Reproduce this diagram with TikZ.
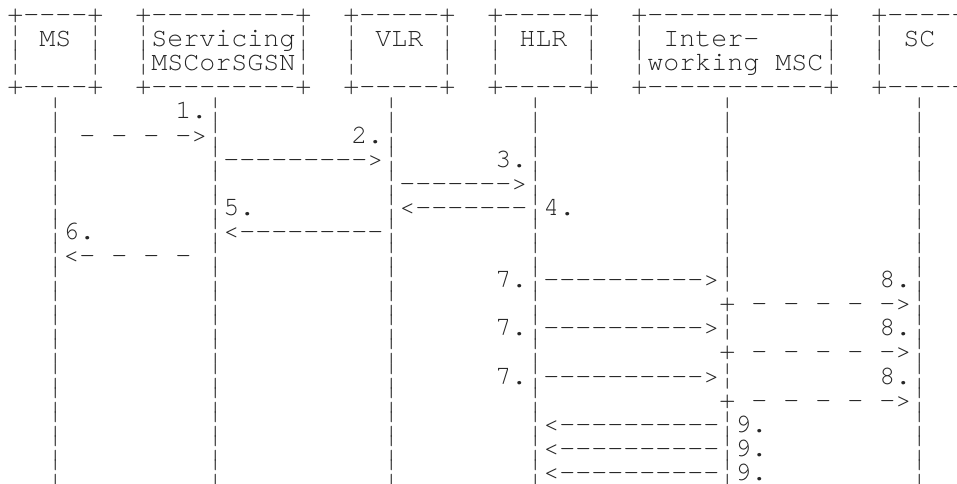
\documentclass[tikz,border=0pt]{standalone}
\usepackage{fontspec}
\usepackage{graphicx}
\setmonofont{texgyrecursor-regular.otf}
\usepackage{tikz}
\newcommand{\vbar}{\scalebox{1}[1.25]{¦}}
\tikzset{
  ascii/.style={font=\ttfamily\fontsize{20}{24}\selectfont, inner sep=0pt,
                anchor=base west, text=black!85}
}
\begin{document}
\begin{tikzpicture}[x=12pt, y=-18.075pt]
  \useasboundingbox (0,0) rectangle (59.8125,20.083);
  % boxes along the top
  \begin{scope}[shift={(0.4375,0.934)}]
    \foreach \r in {0,3} {
      \node[ascii] (ms-\r)   at (0,\r)  {+----+};
      \node[ascii] (msc-\r)  at (8,\r)  {+---------+};
      \node[ascii] (vlr-\r)  at (21,\r) {+-----+};
      \node[ascii] (hlr-\r)  at (30,\r) {+-----+};
      \node[ascii] (iw-\r)   at (39,\r) {+-----------+};
      \node[ascii] (sc-\r)   at (54,\r) {+-----+};
    }
    \node[ascii] (ms-1)   at (0,1)  {\vbar{} MS \vbar};
    \node[ascii] (msc-1)  at (8,1)  {\vbar Servicing\vbar};
    \node[ascii] (vlr-1)  at (21,1) {\vbar{} VLR \vbar};
    \node[ascii] (hlr-1)  at (30,1) {\vbar{} HLR \vbar};
    \node[ascii] (iw-1)   at (39,1) {\vbar{} Inter-};
    \node[ascii] (iw-1r)  at (51,1) {\vbar};
    \node[ascii] (sc-1)   at (54,1) {\vbar{} SC};
    \node[ascii] (sc-1r)  at (60,1) {\vbar};
    \foreach \c/\n in {0/msl,5/msr,21/vlrl,27/vlrr,30/hlrl,36/hlrr,54/scl,60/scr}
      \node[ascii] (\n-2) at (\c,2) {\vbar};
    \node[ascii] (msc-2)  at (8,2)  {\vbar MSCorSGSN\vbar};
    \node[ascii] (iw-2)   at (39,2) {\vbar working MSC\vbar};
  \end{scope}
  % lifelines and messages
  \begin{scope}[shift={(0.9375,0.934)}]
    \foreach \c in {2,12,23,32,56}
      \foreach \r in {4,...,19}
        \node[ascii] (ll-\c-\r) at (\c,\r) {\vbar};
    \foreach \r in {4,...,11,13,15,17,18,19}
      \node[ascii] (ll-44-\r) at (44,\r) {\vbar};
    \node[ascii] (m1)  at (10,4) {1.};
    \node[ascii] (a1)  at (4,5)  {- - - ->};
    \node[ascii] (m2)  at (21,5) {2.};
    \node[ascii] (a2)  at (13,6) {--------->};
    \node[ascii] (m3)  at (30,6) {3.};
    \node[ascii] (a3)  at (24,7) {------->};
    \node[ascii] (m5)  at (13,8) {5.};
    \node[ascii] (a4)  at (24,8) {<-------};
    \node[ascii] (m4)  at (33,8) {4.};
    \node[ascii] (m6)  at (3,9)  {6.};
    \node[ascii] (a5)  at (13,9) {<---------};
    \node[ascii] (a6)  at (3,10) {<- - - -};
    \foreach \r in {11,13,15} {
      \node[ascii] (m7-\r) at (30,\r) {7.};
      \node[ascii] (a7-\r) at (33,\r) {---------->};
      \node[ascii] (m8-\r) at (54,\r) {8.};
    }
    \foreach \r in {12,14,16}
      \node[ascii] (a8-\r) at (44,\r) {+ - - - - ->};
    \foreach \r in {17,18,19} {
      \node[ascii] (a9-\r) at (33,\r) {<----------};
      \node[ascii] (m9-\r) at (45,\r) {9.};
    }
  \end{scope}
\end{tikzpicture}
\end{document}
